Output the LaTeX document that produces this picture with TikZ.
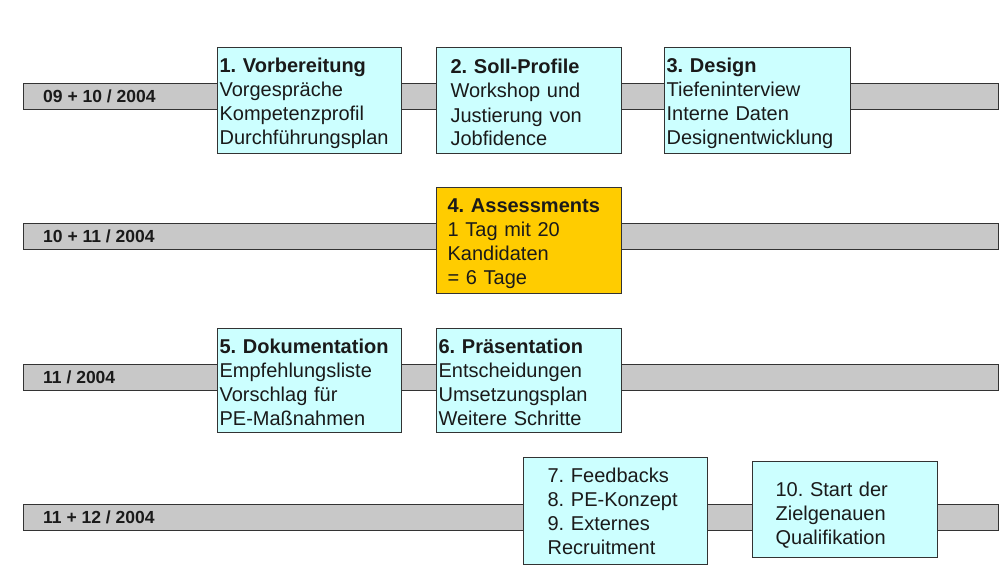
\documentclass[tikz,border=0pt]{standalone}
\usepackage{fontspec}
\setmainfont{Liberation Sans}
\frenchspacing
\definecolor{barg}{HTML}{C8C8C8}
\definecolor{cyanbox}{HTML}{CCFFFF}
\definecolor{goldbox}{HTML}{FFCC00}
\definecolor{ink}{HTML}{1A1A1A}
\begin{document}
\begin{tikzpicture}[x=1pt,y=-1pt,
  bar/.style={draw=black!80, line width=1.2pt, fill=barg, minimum height=26pt,
    minimum width=975pt, inner sep=0pt, anchor=north west},
  barlabel/.style={font=\fontsize{17.5}{19}\selectfont\bfseries, text=ink, anchor=west, inner sep=0pt},
  box/.style={draw=black!80, line width=1.2pt, fill=cyanbox, anchor=north west,
    align=left, inner ysep=0pt, text=ink, font=\fontsize{20}{24}\selectfont\frenchspacing},
  gold/.style={box, fill=goldbox}]
\useasboundingbox (0,0) rectangle (1003,569);
\fill[white] (0,0) rectangle (1003,569);

% bars
\node[bar] (bar1) at (23,83) {};
\node[bar] (bar2) at (23,223) {};
\node[bar] (bar3) at (23,364) {};
\node[bar] (bar4) at (23,504) {};
\node[barlabel] (lab1) at ([xshift=20pt]bar1.west) {09 + 10 / 2004};
\node[barlabel] (lab2) at ([xshift=20pt]bar2.west) {10 + 11 / 2004};
\node[barlabel] (lab3) at ([xshift=20pt]bar3.west) {11 / 2004};
\node[barlabel] (lab4) at ([xshift=20pt]bar4.west) {11 + 12 / 2004};

% row 1
\node[box, inner xsep=2pt, text width=180pt, minimum width=184pt, minimum height=106pt] (b1) at (217,47)
  {\rule{0pt}{19pt}\textbf{1. Vorbereitung}\\Vorgespräche\\Kompetenzprofil\\Durchführungsplan};
\node[box, inner xsep=14pt, text width=157pt, minimum width=185pt, minimum height=106pt] (b2) at (436,47)
  {\rule{0pt}{19pt}\textbf{2. Soll-Profile}\\Workshop und\\Justierung von\\Jobfidence};
\node[box, inner xsep=2pt, text width=182pt, minimum width=186pt, minimum height=106pt] (b3) at (664,47)
  {\rule{0pt}{19pt}\textbf{3. Design}\\Tiefeninterview\\Interne Daten\\Designentwicklung};

% row 2
\node[gold, inner xsep=11pt, text width=163pt, minimum width=185pt, minimum height=106pt] (b4) at (436,187)
  {\rule{0pt}{19pt}\textbf{4. Assessments}\\1 Tag mit 20\\Kandidaten\\= 6 Tage};

% row 3
\node[box, inner xsep=2pt, text width=180pt, minimum width=184pt, minimum height=104pt] (b5) at (217,328)
  {\rule{0pt}{18pt}\textbf{5. Dokumentation}\\Empfehlungsliste\\Vorschlag für\\PE-Maßnahmen};
\node[box, inner xsep=2pt, text width=181pt, minimum width=185pt, minimum height=104pt] (b6) at (436,328)
  {\rule{0pt}{18pt}\textbf{6. Präsentation}\\Entscheidungen\\Umsetzungsplan\\Weitere Schritte};

% row 4
\node[box, inner xsep=24pt, text width=136pt, minimum width=184pt, minimum height=107pt] (b7) at (523,457)
  {7. Feedbacks\\8. PE-Konzept\\9. Externes\\Recruitment};
\node[box, inner xsep=23pt, text width=139pt, minimum width=185pt, minimum height=96pt] (b10) at (752,461)
  {\rule{0pt}{26pt}10. Start der\\Zielgenauen\\Qualifikation};
\end{tikzpicture}
\end{document}
